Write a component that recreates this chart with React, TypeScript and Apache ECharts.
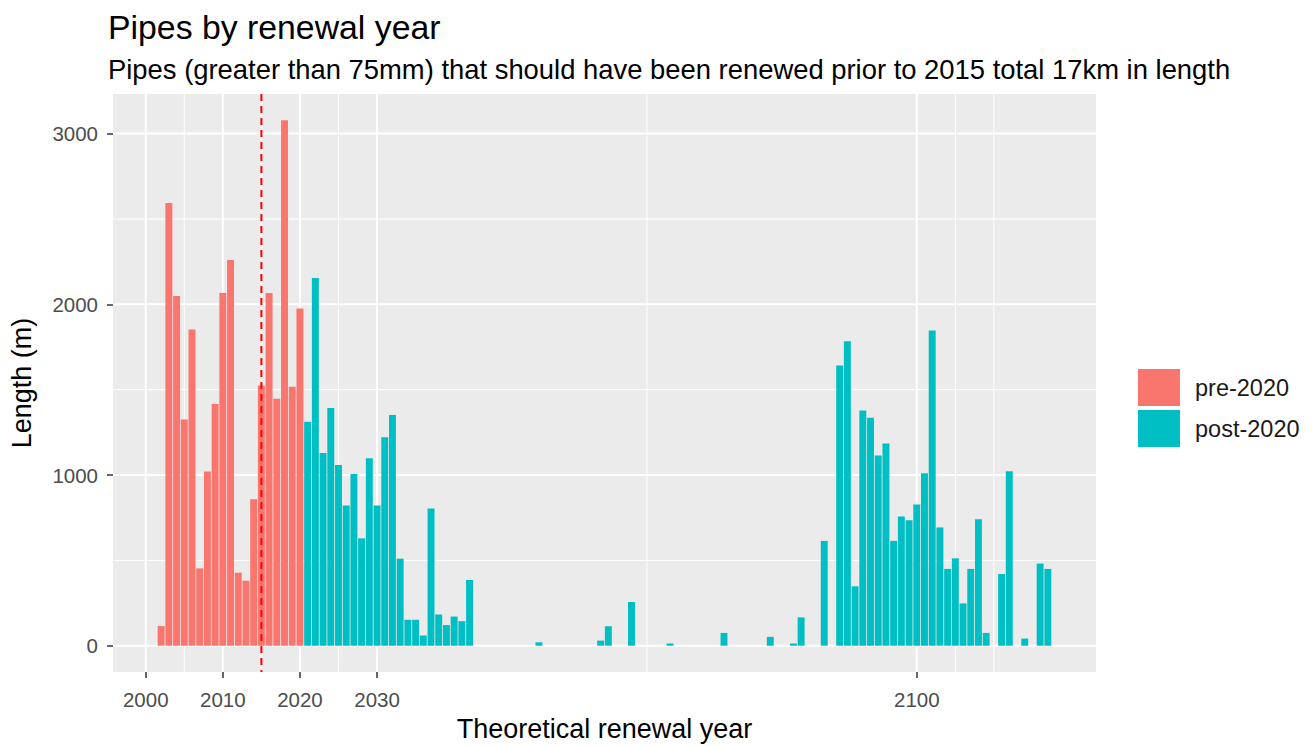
import React, { useEffect, useRef } from "react";
import * as echarts from "echarts";

// ---- data ----
const preYears = [2002, 2003, 2004, 2005, 2006, 2007, 2008, 2009, 2010, 2011, 2012, 2013, 2014, 2015, 2016, 2017, 2018, 2019, 2020];
const preLengths = [115, 2593, 2048, 1325, 1852, 453, 1021, 1416, 2066, 2260, 428, 381, 858, 1525, 2066, 1447, 3078, 1517, 1976];

const postYears = [
  2021, 2022, 2023, 2024, 2025, 2026, 2027, 2028, 2029, 2030, 2031, 2032, 2033, 2034, 2035, 2036, 2037, 2038, 2039, 2040, 2041, 2042,
  2051, 2059, 2060, 2063, 2068, 2075, 2081, 2084, 2085, 2088,
  2090, 2091, 2092, 2093, 2094, 2095, 2096, 2097, 2098, 2099, 2100, 2101, 2102, 2103, 2104, 2105, 2106, 2107, 2108, 2109,
  2111, 2112, 2114, 2116, 2117,
];
const postLengths = [
  1312, 2154, 1129, 1392, 1058, 821, 1006, 629, 1098, 821, 1221, 1352, 510, 152, 152, 60, 804, 183, 121, 171, 144, 385,
  20, 30, 114, 256, 13, 75, 52, 13, 166, 614,
  1642, 1784, 348, 1378, 1336, 1115, 1184, 614, 757, 735, 828, 1011, 1846, 693, 450, 512, 248, 450, 741, 75,
  420, 1022, 42, 481, 450,
];

const xMajorBreaks = [2000, 2010, 2020, 2030, 2100];
const xMinorBreaks = [2005, 2015, 2025, 2065, 2105, 2110];
const yMajorBreaks = [0, 1000, 2000, 3000];
const yMinorBreaks = [500, 1500, 2500];
const cutoffYear = 2015;

const seriesNames = ["pre-2020", "post-2020"];
const titleText = "Pipes by renewal year";
const subtitleText = "Pipes (greater than 75mm) that should have been renewed prior to 2015 total 17km in length";
const xTitle = "Theoretical renewal year";
const yTitle = "Length (m)";

const FONT = "'Liberation Sans', Arial, sans-serif";
const BAR_WIDTH = 0.9;

export default function App() {
  const ref = useRef<HTMLDivElement>(null);

  useEffect(() => {
    if (!ref.current) return;
    const chart = echarts.init(ref.current, null, { renderer: "svg" });

    const allYears = preYears.concat(postYears);
    const allVals = preLengths.concat(postLengths);
    const xLo = Math.min(...allYears) - BAR_WIDTH / 2;
    const xHi = Math.max(...allYears) + BAR_WIDTH / 2;
    const xPad = (xHi - xLo) * 0.05;
    const yMaxData = Math.max(...allVals);
    const yPad = yMaxData * 0.05;

    const barRender = (color: string) => (params: any, api: any) => {
      const yr = api.value(0);
      const v = api.value(1);
      const p0 = api.coord([yr - BAR_WIDTH / 2, v]);
      const p1 = api.coord([yr + BAR_WIDTH / 2, 0]);
      return {
        type: "rect",
        shape: { x: p0[0], y: p0[1], width: p1[0] - p0[0], height: p1[1] - p0[1] },
        style: { fill: color },
      };
    };

    const vLine = (w: number, color: string, dash?: number[]) => (params: any, api: any) => {
      const x = api.coord([api.value(0), 0])[0];
      const cs = params.coordSys;
      return {
        type: "line",
        shape: { x1: x, y1: cs.y, x2: x, y2: cs.y + cs.height },
        style: { stroke: color, lineWidth: w, lineDash: dash },
      };
    };
    const hLine = (w: number) => (params: any, api: any) => {
      const y = api.coord([xLo, api.value(1)])[1];
      const cs = params.coordSys;
      return {
        type: "line",
        shape: { x1: cs.x, y1: y, x2: cs.x + cs.width, y2: y },
        style: { stroke: "#FFFFFF", lineWidth: w },
      };
    };

    const option: any = {
      animation: false,
      backgroundColor: "#FFFFFF",
      textStyle: { fontFamily: FONT },
      title: [
        {
          text: titleText,
          left: 103,
          top: 5,
          textStyle: { fontFamily: FONT, fontSize: 33.8, fontWeight: "normal", color: "#000000" },
        },
        {
          text: subtitleText,
          left: 103,
          top: 51,
          textStyle: { fontFamily: FONT, fontSize: 27.4, fontWeight: "normal", color: "#000000" },
        },
      ],
      legend: {
        data: seriesNames,
        orient: "vertical",
        left: 1138,
        top: 369,
        padding: 0,
        itemWidth: 42,
        itemHeight: 37,
        itemGap: 4,
        icon: "rect",
        textStyle: { fontFamily: FONT, fontSize: 23.5, color: "#1A1A1A", padding: [0, 0, 0, 10] },
      },
      grid: {
        left: 108,
        top: 94,
        width: 988,
        height: 588,
        show: true,
        backgroundColor: "#EBEBEB",
        borderWidth: 0,
        containLabel: false,
      },
      xAxis: {
        type: "value",
        min: xLo - xPad,
        max: xHi + xPad,
        splitLine: { show: false },
        axisLine: { show: false, onZero: false },
        axisTick: { show: true, customValues: xMajorBreaks, length: 6, lineStyle: { color: "#333333", width: 1.5 } },
        axisLabel: {
          customValues: xMajorBreaks,
          formatter: (v: number) => String(v),
          color: "#4D4D4D",
          fontSize: 20.5,
          fontFamily: FONT,
          margin: 17,
          showMinLabel: true,
          showMaxLabel: true,
        },
        name: xTitle,
        nameLocation: "middle",
        nameGap: 43,
        nameTextStyle: { fontFamily: FONT, fontSize: 27, color: "#000000" },
      },
      yAxis: {
        type: "value",
        min: -yPad,
        max: yMaxData + yPad,
        splitLine: { show: false },
        axisLine: { show: false, onZero: false },
        axisTick: { show: true, customValues: yMajorBreaks, length: 6, lineStyle: { color: "#333333", width: 1.5 } },
        axisLabel: {
          customValues: yMajorBreaks,
          formatter: (v: number) => String(v),
          color: "#4D4D4D",
          fontSize: 20.5,
          fontFamily: FONT,
          margin: 15,
        },
        name: yTitle,
        nameLocation: "middle",
        nameRotate: 90,
        nameGap: 78,
        nameTextStyle: { fontFamily: FONT, fontSize: 27, color: "#000000" },
      },
      series: [
        {
          type: "custom",
          name: "ygridMinor",
          silent: true,
          z: 1,
          data: yMinorBreaks.map((v) => [xLo, v]),
          renderItem: hLine(1),
        },
        {
          type: "custom",
          name: "ygridMajor",
          silent: true,
          z: 1,
          data: yMajorBreaks.map((v) => [xLo, v]),
          renderItem: hLine(2),
        },
        {
          type: "custom",
          name: "xgridMinor",
          silent: true,
          z: 1,
          data: xMinorBreaks.map((v) => [v, 0]),
          renderItem: vLine(1, "#FFFFFF"),
        },
        {
          type: "custom",
          name: "xgridMajor",
          silent: true,
          z: 1,
          data: xMajorBreaks.map((v) => [v, 0]),
          renderItem: vLine(2, "#FFFFFF"),
        },
        {
          type: "custom",
          name: seriesNames[0],
          z: 2,
          itemStyle: { color: "#F8766D" },
          data: preYears.map((y, i) => [y, preLengths[i]]),
          encode: { x: 0, y: 1 },
          renderItem: barRender("#F8766D"),
        },
        {
          type: "custom",
          name: seriesNames[1],
          z: 2,
          itemStyle: { color: "#00BFC4" },
          data: postYears.map((y, i) => [y, postLengths[i]]),
          encode: { x: 0, y: 1 },
          renderItem: barRender("#00BFC4"),
        },
        {
          type: "custom",
          name: "cutoff",
          silent: true,
          z: 3,
          data: [[cutoffYear, 0]],
          renderItem: vLine(2, "#FF0000", [7, 5]),
        },
      ],
    };

    chart.setOption(option);
    return () => chart.dispose();
  }, []);

  return (
    <div
      ref={ref}
      style={{ position: "fixed", left: 0, top: 0, width: 1312, height: 747 }}
    />
  );
}
